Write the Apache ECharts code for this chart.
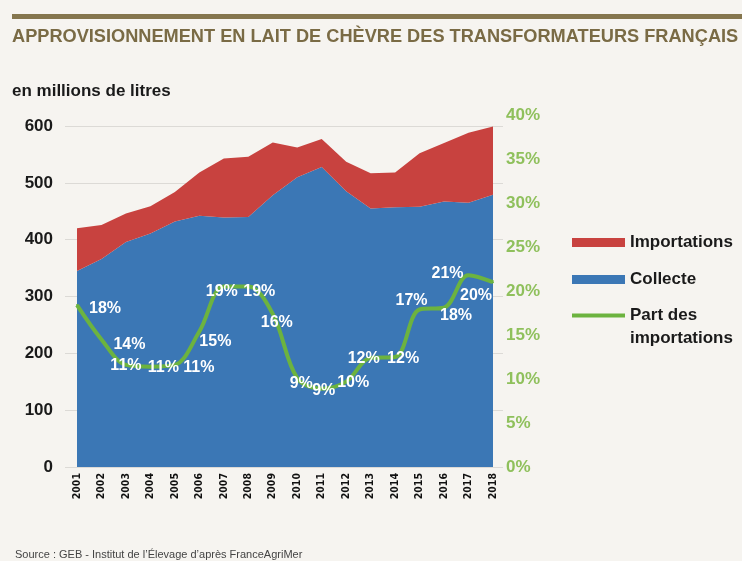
<!DOCTYPE html>
<html><head><meta charset="utf-8">
<script src="https://cdn.jsdelivr.net/npm/echarts@6/dist/echarts.min.js"></script>
<style>html,body{margin:0;padding:0;background:#f6f4f0}#c{width:742px;height:561px}</style>
</head><body><div id="c"></div>
<script>
const years = ['2001','2002','2003','2004','2005','2006','2007','2008','2009','2010','2011','2012','2013','2014','2015','2016','2017','2018'];
const collecte = [345,366,396,411,432,442,439,440,478,510,528,485,455,457,458,467,465,479];
const importations = [75,60,50,48,52,76,104,106,93,52,49,52,62,61,94,103,123,120];
const partImportations = [18.4,14.5,11.6,11.4,11.6,15.4,20.5,20.5,17.4,10.1,8.9,9.7,12.4,12.5,17.9,18.1,21.8,21.0];
const partLabels = ['18%','14%','11%','11%','11%','15%','19%','19%','16%','9%','9%','10%','12%','12%','17%','18%','21%','20%'];

// label placement (style only)
const labelOffsets = [[28,4],[28,5],[0,1],[13,1],[24,3],[16,10],[-2,5],[11,5],[4,9],[4,5],[2,2],[7,1],[-7,1],[8,2],[-8,-9],[12,8],[-21,-2],[-17,13]];

const BLUE = '#3b77b5', RED = '#c8423f', GREEN = '#6cb33f';
const FONT = 'Liberation Sans';

const chart = echarts.init(document.getElementById('c'), null, {renderer:'canvas'});
chart.setOption({
  animation: false,
  backgroundColor: '#f6f4f0',
  textStyle: {fontFamily: FONT},
  graphic: [{type:'rect', left:12, top:14, shape:{width:730, height:5}, style:{fill:'#85764e'}}],
  title: [
    {text:'APPROVISIONNEMENT EN LAIT DE CHÈVRE DES TRANSFORMATEURS FRANÇAIS', left:12, top:28, padding:0,
     textStyle:{fontSize:18.2, fontWeight:'bold', color:'#7a6b45', fontFamily:FONT}},
    {text:'en millions de litres', left:12, top:83, padding:0,
     textStyle:{fontSize:17, fontWeight:'bold', color:'#1a1a1a', fontFamily:FONT}},
    {text:'Source : GEB - Institut de l’Élevage d’après FranceAgriMer', left:15, top:549, padding:0,
     textStyle:{fontSize:11, fontWeight:'normal', color:'#444', fontFamily:FONT}}
  ],
  legend: [
    {orient:'vertical', left:567, top:229, itemWidth:53, itemHeight:9, itemGap:20,
     textStyle:{fontSize:17, fontWeight:'bold', color:'#1a1a1a', fontFamily:FONT},
     data:[{name:'Importations', icon:'rect'},{name:'Collecte', icon:'rect'}]},
    {orient:'vertical', left:567, top:276, itemWidth:53, itemHeight:9,
     textStyle:{fontSize:17, fontWeight:'bold', color:'#1a1a1a', fontFamily:FONT, lineHeight:23},
     data:[{name:'Part des importations', icon:'path://M0,0H53V4H0Z'}],
     formatter: () => '\nPart des\nimportations'}
  ],
  grid: [
    {left:65, right:239, top:126, bottom:94},
    {left:77, right:249, top:126, bottom:94},
    {left:77, right:249, top:115, bottom:94}
  ],
  xAxis: [
    {type:'category', gridIndex:0, data:years, show:false},
    {type:'category', gridIndex:1, data:years, boundaryGap:false,
     axisLine:{show:false}, axisTick:{show:false},
     axisLabel:{rotate:90, interval:0, margin:6, fontSize:10.5, fontWeight:'bold', color:'#111', fontFamily:"'DejaVu Sans Condensed', 'Liberation Sans', sans-serif"}},
    {type:'category', gridIndex:2, data:years, boundaryGap:false, show:false}
  ],
  yAxis: [
    {type:'value', gridIndex:0, min:0, max:600, interval:100,
     axisLine:{show:false}, axisTick:{show:false},
     axisLabel:{margin:12, fontSize:17, fontWeight:'bold', color:'#1a1a1a', fontFamily:FONT},
     splitLine:{lineStyle:{color:'#dcdad6', width:1}}},
    {type:'value', gridIndex:1, min:0, max:600, interval:100, show:false, splitLine:{show:false}},
    {type:'value', gridIndex:2, position:'right', min:0, max:40, interval:5,
     axisLine:{show:false}, axisTick:{show:false}, splitLine:{show:false},
     axisLabel:{margin:13, fontSize:17, fontWeight:'bold', color:'#8fc05c', fontFamily:FONT, formatter:'{value}%'}}
  ],
  series: [
    {name:'Collecte', type:'line', xAxisIndex:1, yAxisIndex:1, stack:'total', data:collecte,
     symbol:'none', color:BLUE, lineStyle:{width:0}, areaStyle:{color:BLUE, opacity:1}},
    {name:'Importations', type:'line', xAxisIndex:1, yAxisIndex:1, stack:'total', data:importations,
     symbol:'none', color:RED, lineStyle:{width:0}, areaStyle:{color:RED, opacity:1}},
    {name:'Part des importations', type:'line', xAxisIndex:2, yAxisIndex:2, smooth:0.35,
     color:GREEN, symbol:'circle', symbolSize:2,
     lineStyle:{width:4, color:GREEN},
     data: partImportations.map((v,i)=>({value:v, label:{offset:labelOffsets[i]}})),
     label:{show:true, position:'inside', color:'#fff', fontSize:16, fontWeight:'bold', fontFamily:FONT,
            formatter: p => partLabels[p.dataIndex]}}
  ]
});
</script></body></html>
